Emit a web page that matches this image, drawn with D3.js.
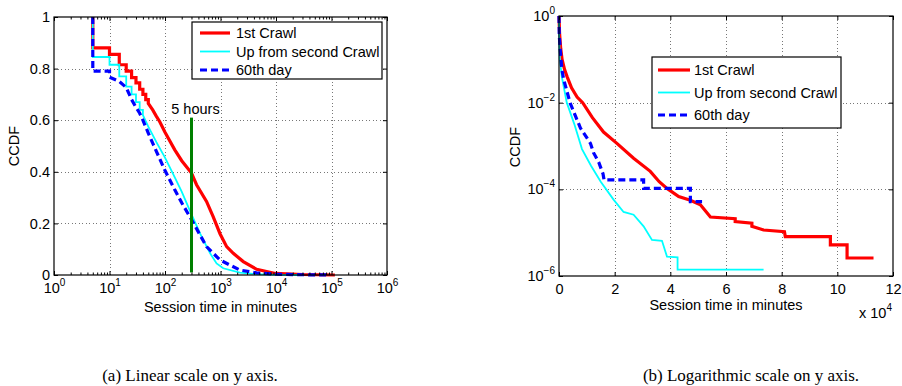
<!DOCTYPE html>
<html>
<head>
<meta charset="utf-8">
<script src="https://cdn.jsdelivr.net/npm/d3@7"></script>
<style>
  body { margin: 0; background: #fff; }
  svg { display: block; font-family: "Liberation Sans", Arial, sans-serif; }
  svg text { font-family: "Liberation Sans", Arial, sans-serif; font-size: 14.5px; fill: #000; }
  .grid { stroke: #777; stroke-width: 1; stroke-dasharray: 1, 2.5; shape-rendering: crispEdges; }
  .caption { font-family: "Liberation Serif", "Times New Roman", serif; font-size: 17px; }
</style>
</head>
<body>
<div id="chart"></div>
<script>
// ---- data: panel (a), session time (minutes, log x) vs CCDF (linear y)
const firstCrawlLin = [[5, 1], [5, 0.88], [10, 0.88], [10, 0.855], [15, 0.855], [15, 0.815], [20, 0.815], [20, 0.79],
  [25, 0.79], [25, 0.765], [30, 0.765], [30, 0.745], [35, 0.745], [35, 0.72], [40, 0.72], [40, 0.70], [45, 0.70],
  [45, 0.68], [50, 0.68], [50, 0.665], [60, 0.64], [70, 0.615], [80, 0.595], [100, 0.553], [150, 0.485],
  [200, 0.443], [300, 0.395], [370, 0.35], [560, 0.285], [740, 0.225], [980, 0.16], [1290, 0.11], [1700, 0.084],
  [2570, 0.052], [4480, 0.022], [9800, 0.006], [30000, 0.002], [115000, 0]];
const secondCrawlLin = [[5, 1], [5, 0.845], [10, 0.845], [10, 0.815], [15, 0.815], [15, 0.77], [20, 0.77], [20, 0.73],
  [25, 0.73], [25, 0.70], [30, 0.70], [30, 0.67], [35, 0.67], [35, 0.64], [40, 0.64], [40, 0.62], [50, 0.575],
  [70, 0.515], [100, 0.455], [150, 0.378], [200, 0.323], [300, 0.235], [430, 0.16], [650, 0.084], [850, 0.045],
  [1120, 0.026], [2240, 0.009], [4460, 0.003], [10000, 0.0005], [25000, 0]];
const day60Lin = [[5, 1], [5, 0.79], [10, 0.79], [10, 0.767], [15, 0.75], [20, 0.727], [25, 0.68], [30, 0.65],
  [35, 0.627], [40, 0.6], [50, 0.55], [62, 0.504], [100, 0.405], [150, 0.33], [200, 0.28], [300, 0.215],
  [560, 0.11], [980, 0.058], [2240, 0.019], [4480, 0.008], [10000, 0.003], [30000, 0.001], [90000, 0]];
const fiveHours = { minutes: 300, from: 0.01, to: 0.61, label: '5 hours' };

// ---- data: panel (b), session time (minutes, linear x) vs CCDF (log y)
const firstCrawlLog = [[0, 1], [200, 0.4], [600, 0.18], [1100, 0.1], [2000, 0.058], [2900, 0.04], [4500, 0.022],
  [6500, 0.0135], [8500, 0.01], [12000, 0.0045], [16000, 0.0021], [20800, 0.00115], [26800, 5.2e-4],
  [32800, 2.6e-4], [36000, 1.5e-4], [38800, 1.05e-4], [43000, 6.8e-5], [47200, 5.6e-5], [50800, 4.4e-5],
  [54400, 2.3e-5], [63300, 2.1e-5], [63300, 1.8e-5], [69300, 1.65e-5], [69300, 1.4e-5], [73500, 1.15e-5],
  [81000, 1.05e-5], [81300, 8.1e-6], [97500, 8.1e-6], [97500, 5.2e-6], [103500, 5.2e-6], [103500, 2.6e-6],
  [113000, 2.6e-6]];
const secondCrawlLog = [[0, 1], [60, 0.3], [300, 0.1], [1000, 0.04], [2800, 0.01], [5500, 0.0032], [8260, 8.5e-4],
  [11500, 3.5e-4], [15000, 1.5e-4], [19600, 5.8e-5], [23200, 3e-5], [26800, 2.6e-5], [30400, 1.4e-5],
  [33400, 6.8e-6], [37000, 6.5e-6], [38800, 2.8e-6], [42600, 2.7e-6], [42600, 1.4e-6], [73500, 1.4e-6]];
const day60Log = [[0, 1], [100, 0.35], [470, 0.16], [1000, 0.06], [1650, 0.035], [4000, 0.0098], [7700, 0.0026],
  [11300, 0.00115], [12400, 7e-4], [14300, 4.2e-4], [15800, 2.3e-4], [16200, 1.65e-4], [30400, 1.65e-4],
  [30400, 1.05e-4], [47200, 1.05e-4], [47200, 5.2e-5], [51400, 5.2e-5]];

// ---- labels and ticks
const seriesNames = ['1st Crawl', 'Up from second Crawl', '60th day'];
const linXTicks = [1, 10, 100, 1000, 10000, 100000, 1000000];
const linYTicks = [0, 0.2, 0.4, 0.6, 0.8, 1];
const logXTicks = [0, 20000, 40000, 60000, 80000, 100000, 120000];
const logYTicks = [1e-6, 1e-4, 1e-2, 1];
const captions = ['(a) Linear scale on y axis.', '(b) Logarithmic scale on y axis.'];

const styles = [
  { color: '#ff0000', width: 3.2, dash: null },
  { color: '#00ffff', width: 1.8, dash: null },
  { color: '#0000ff', width: 3.2, dash: '7,4' }
];

const svg = d3.select('#chart').append('svg').attr('width', 902).attr('height', 386);

function powerLabel(text, exp) {
  text.text(null);
  text.append('tspan').text('10');
  text.append('tspan').attr('dy', -7).style('font-size', '10px').text(exp);
}

function frame(g, x, y, xTicks, yTicks, xMinor) {
  const [x0, x1] = x.range();
  const [y0, y1] = y.range();
  // inward ticks on all four sides
  g.append('g').attr('class', 'x-axis').attr('transform', `translate(0,${y0})`)
    .call(d3.axisBottom(x).tickValues(xTicks).tickSize(-4).tickPadding(8).tickFormat(''));
  g.append('g').attr('transform', `translate(0,${y1})`)
    .call(d3.axisTop(x).tickValues(xTicks).tickSize(-4).tickFormat(''));
  if (xMinor) {
    g.append('g').attr('transform', `translate(0,${y0})`)
      .call(d3.axisBottom(x).tickValues(xMinor).tickSize(-2.5).tickFormat(''));
    g.append('g').attr('transform', `translate(0,${y1})`)
      .call(d3.axisTop(x).tickValues(xMinor).tickSize(-2.5).tickFormat(''));
  }
  g.append('g').attr('class', 'y-axis').attr('transform', `translate(${x0},0)`)
    .call(d3.axisLeft(y).tickValues(yTicks).tickSize(-4).tickPadding(4).tickFormat(''));
  g.append('g').attr('transform', `translate(${x1},0)`)
    .call(d3.axisRight(y).tickValues(yTicks).tickSize(-4).tickFormat(''));
  g.selectAll('.domain').remove();
  g.selectAll('.tick line').attr('stroke', '#000');
  g.append('rect')
    .attr('x', x0).attr('y', y1).attr('width', x1 - x0).attr('height', y0 - y1)
    .attr('fill', 'none').attr('stroke', '#000').attr('stroke-width', 1.2);
}

function grid(g, x, y, xVals, yVals) {
  g.append('g').selectAll('line').data(xVals).join('line').attr('class', 'grid')
    .attr('x1', d => Math.round(x(d)) + 0.5).attr('x2', d => Math.round(x(d)) + 0.5)
    .attr('y1', y.range()[0]).attr('y2', y.range()[1]);
  g.append('g').selectAll('line').data(yVals).join('line').attr('class', 'grid')
    .attr('y1', d => Math.round(y(d)) + 0.5).attr('y2', d => Math.round(y(d)) + 0.5)
    .attr('x1', x.range()[0]).attr('x2', x.range()[1]);
}

function legend(g, box, rowGap) {
  g.append('rect').attr('x', box.x).attr('y', box.y).attr('width', box.w).attr('height', box.h)
    .attr('fill', '#fff').attr('stroke', '#000').attr('stroke-width', 1.2);
  seriesNames.forEach((name, i) => {
    const cy = box.y + box.first + i * rowGap;
    g.append('line').attr('x1', box.x + box.lx0).attr('x2', box.x + box.lx1).attr('y1', cy).attr('y2', cy)
      .attr('stroke', styles[i].color).attr('stroke-width', styles[i].width)
      .attr('stroke-dasharray', styles[i].dash);
    g.append('text').attr('x', box.x + box.tx).attr('y', cy + 5).text(name);
  });
}

function curves(g, line, sets) {
  sets.forEach((data, i) => {
    g.append('path').attr('d', line(data)).attr('fill', 'none')
      .attr('stroke', styles[i].color).attr('stroke-width', styles[i].width)
      .attr('stroke-dasharray', styles[i].dash).attr('stroke-linejoin', 'miter');
  });
}

// ================= panel (a)
const xa = d3.scaleLog().domain([1, 1e6]).range([54, 387]);
const ya = d3.scaleLinear().domain([0, 1]).range([275, 17]);
const ga = svg.append('g');
const minorA = [];
for (let e = 0; e < 6; e++) for (let m = 2; m < 10; m++) minorA.push(m * Math.pow(10, e));

grid(ga, xa, ya, linXTicks.slice(1, -1), linYTicks.slice(1, -1));
curves(ga, d3.line().x(d => xa(d[0])).y(d => ya(d[1])), [firstCrawlLin, secondCrawlLin, day60Lin]);

ga.append('line')
  .attr('x1', xa(fiveHours.minutes)).attr('x2', xa(fiveHours.minutes))
  .attr('y1', ya(fiveHours.from)).attr('y2', ya(fiveHours.to))
  .attr('stroke', '#008000').attr('stroke-width', 3);
ga.append('text').attr('x', xa(fiveHours.minutes) + 4).attr('y', ya(fiveHours.to) - 4)
  .attr('text-anchor', 'middle').text(fiveHours.label);

frame(ga, xa, ya, linXTicks, linYTicks, minorA);

ga.select('.x-axis').selectAll('.tick text')
  .each(function (d) { powerLabel(d3.select(this), Math.round(Math.log10(d))); });
ga.select('.y-axis').selectAll('.tick text').text(d => (d === 0 || d === 1) ? d : d.toFixed(1));

ga.append('text').attr('transform', `translate(19,146) rotate(-90)`).attr('text-anchor', 'middle').text('CCDF');
ga.append('text').attr('x', 220.5).attr('y', 312).attr('text-anchor', 'middle').text('Session time in minutes');

legend(ga, { x: 192, y: 22, w: 190, h: 57, first: 11, lx0: 8, lx1: 38, tx: 44 }, 18.5);

// ================= panel (b)
const xb = d3.scaleLinear().domain([0, 120000]).range([559, 893]);
const yb = d3.scaleLog().domain([1e-6, 1]).range([276, 16]);
const gb = svg.append('g');

grid(gb, xb, yb, logXTicks.slice(1, -1), logYTicks.slice(1, -1));
curves(gb, d3.line().x(d => xb(d[0])).y(d => yb(d[1])), [firstCrawlLog, secondCrawlLog, day60Log]);

frame(gb, xb, yb, logXTicks, logYTicks, null);

gb.select('.x-axis').selectAll('.tick text').text(d => d / 1e4);
gb.select('.y-axis').selectAll('.tick text').each(function (d) {
  const e = Math.round(Math.log10(d));
  powerLabel(d3.select(this), e < 0 ? '\u2212' + Math.abs(e) : '0');
});

gb.append('text').attr('transform', `translate(520,147) rotate(-90)`).attr('text-anchor', 'middle').text('CCDF');
gb.append('text').attr('x', 726).attr('y', 310).attr('text-anchor', 'middle').text('Session time in minutes');
const mult = gb.append('text').attr('x', 859).attr('y', 318);
mult.append('tspan').text('x 10');
mult.append('tspan').attr('dy', -7).style('font-size', '10px').text('4');

legend(gb, { x: 652, y: 57, w: 189, h: 71, first: 13, lx0: 6, lx1: 38, tx: 42 }, 22.5);

// ================= captions
svg.append('text').attr('class', 'caption').attr('x', 190).attr('y', 381).attr('text-anchor', 'middle').text(captions[0]);
svg.append('text').attr('class', 'caption').attr('x', 751).attr('y', 381).attr('text-anchor', 'middle').text(captions[1]);
</script>
</body>
</html>
